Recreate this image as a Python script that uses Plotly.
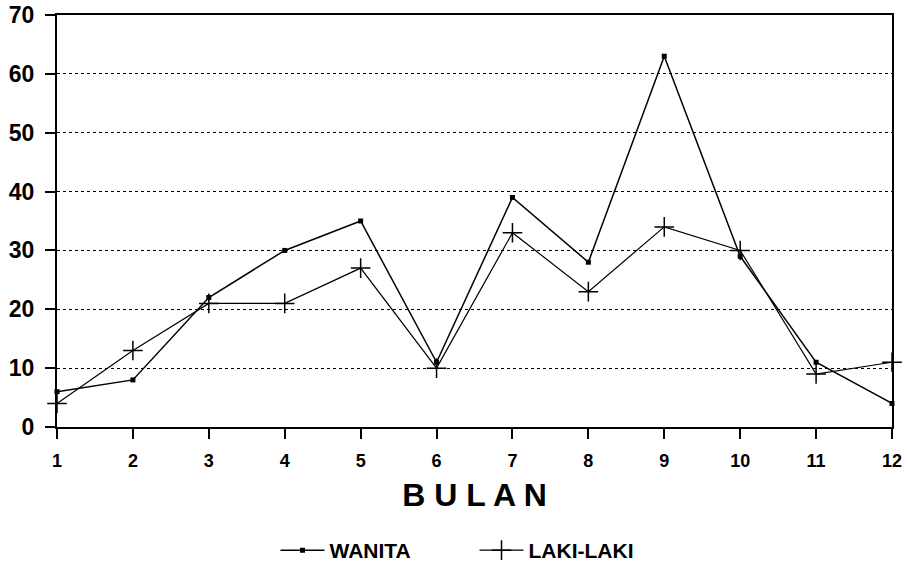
import plotly.graph_objects as go

bulan = [1, 2, 3, 4, 5, 6, 7, 8, 9, 10, 11, 12]
wanita = [6, 8, 22, 30, 35, 11, 39, 28, 63, 29, 11, 4]
laki_laki = [4, 13, 21, 21, 27, 10, 33, 23, 34, 30, 9, 11]
y_ticks = [0, 10, 20, 30, 40, 50, 60, 70]

fig = go.Figure()
fig.add_trace(go.Scatter(
    x=bulan, y=wanita, name="WANITA", mode="lines+markers",
    line=dict(color="black", width=1.5),
    marker=dict(symbol="square", size=5, color="black"),
    cliponaxis=False,
))
fig.add_trace(go.Scatter(
    x=bulan, y=laki_laki, name="LAKI-LAKI", mode="lines+markers",
    line=dict(color="black", width=1.2),
    marker=dict(symbol="cross-thin", size=14, line=dict(color="black", width=1.5)),
    cliponaxis=False,
))

fig.update_layout(
    width=908, height=571,
    margin=dict(l=57, r=16, t=15, b=144, autoexpand=False),
    paper_bgcolor="white", plot_bgcolor="white",
    font=dict(family="Liberation Sans, Arial, sans-serif", color="black"),
    showlegend=True,
    legend=dict(
        orientation="h", x=0.5, xanchor="center", y=-0.3495, yanchor="bottom",
        font=dict(size=21, family="Liberation Sans, Arial", weight="bold"),
        itemwidth=44, entrywidth=140, bgcolor="rgba(0,0,0,0)", tracegroupgap=0,
    ),
    xaxis=dict(
        range=[1, 12], tickvals=bulan, ticktext=[str(b) for b in bulan],
        ticks="outside", ticklen=10, tickwidth=1.5, tickcolor="black",
        ticklabelstandoff=6, ticklabeloverflow="allow",
        showline=True, linecolor="black", linewidth=2, mirror=True,
        showgrid=False, zeroline=False, automargin=False,
        tickfont=dict(size=18, family="Liberation Sans, Arial", weight="bold"),
        title=dict(text="B U L A N", standoff=14,
                   font=dict(size=32, family="Liberation Sans, Arial", weight="bold")),
    ),
    yaxis=dict(
        range=[0, 70], tickvals=y_ticks,
        ticks="outside", ticklen=10, tickwidth=1.5, tickcolor="black",
        ticklabelstandoff=6, ticklabeloverflow="allow",
        showline=True, linecolor="black", linewidth=2, mirror=True,
        showgrid=True, gridcolor="black", gridwidth=1, griddash="dot",
        zeroline=False, automargin=False,
        tickfont=dict(size=23, family="Liberation Sans, Arial", weight="bold"),
    ),
)

fig.write_html(
    "out.html",
    config={"displayModeBar": False},
    post_script="document.body.style.margin='0';document.body.style.overflow='hidden';",
)
